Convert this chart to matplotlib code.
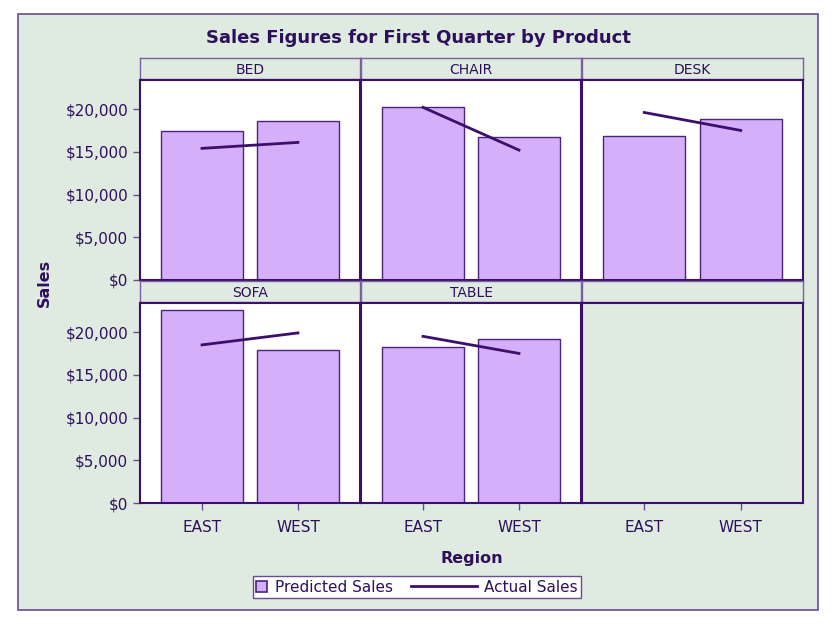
import matplotlib.pyplot as plt
from matplotlib.patches import Rectangle, Patch
from matplotlib.lines import Line2D
from matplotlib.ticker import FuncFormatter
from matplotlib.legend_handler import HandlerBase

# data
products = ['BED', 'CHAIR', 'DESK', 'SOFA', 'TABLE']
regions = ['EAST', 'WEST']
predicted = {
    'BED':   [17400, 18600],
    'CHAIR': [20200, 16700],
    'DESK':  [16800, 18800],
    'SOFA':  [22600, 17900],
    'TABLE': [18200, 19200],
}
actual = {
    'BED':   [15400, 16100],
    'CHAIR': [20200, 15200],
    'DESK':  [19600, 17500],
    'SOFA':  [18500, 19900],
    'TABLE': [19500, 17500],
}

BG = '#dfebe1'
BAR = '#d6affb'
DARK = '#3b0f6b'
EDGE = '#4a2477'
TXT = '#2e0f5c'

W, H = 832, 631
fig = plt.figure(figsize=(W / 100, H / 100), dpi=100)
fig.patch.set_facecolor('white')

# outer green frame
fig.patches.append(Rectangle((18 / W, 1 - 610 / H), 800 / W, 596 / H,
                             transform=fig.transFigure, facecolor=BG,
                             edgecolor='#6a4c93', linewidth=1.2, zorder=-5))


def box(x0, y0, x1, y1):
    return [x0 / W, 1 - y1 / H, (x1 - x0) / W, (y1 - y0) / H]


cols = [(140, 360), (361, 581), (582, 803)]
rows = [((58, 79), (80, 280)), ((281, 302), (303, 503))]
fmt = FuncFormatter(lambda v, p: '${:,.0f}'.format(v))
xs = [0, 1]

for i in range(6):
    r, c = divmod(i, 3)
    (hy0, hy1), (py0, py1) = rows[r]
    x0, x1 = cols[c]

    # header strip
    hax = fig.add_axes(box(x0, hy0, x1, hy1))
    hax.set_facecolor(BG)
    hax.set_xticks([])
    hax.set_yticks([])
    for s in hax.spines.values():
        s.set_color('#7a60a0')
        s.set_linewidth(1.0)

    ax = fig.add_axes(box(x0, py0, x1, py1))
    ax.set_xlim(-0.646, 1.646)
    ax.set_ylim(0, 23400)
    for s in ax.spines.values():
        s.set_color(DARK)
        s.set_linewidth(1.5)

    if i < len(products):
        p = products[i]
        hax.text(0.5, 0.45, p, ha='center', va='center', color=TXT,
                 fontsize=10, transform=hax.transAxes)
        ax.set_facecolor('white')
        ax.bar(xs, predicted[p], width=0.854, color=BAR, edgecolor=EDGE,
               linewidth=1.0, zorder=2)
        ax.plot(xs, actual[p], color=DARK, linewidth=2, zorder=3)
    else:
        ax.set_facecolor(BG)

    ax.set_yticks([0, 5000, 10000, 15000, 20000])
    ax.yaxis.set_major_formatter(fmt)
    ax.set_xticks(xs)
    ax.set_xticklabels(regions)
    ax.tick_params(axis='both', colors='#6a4c93', labelcolor=TXT,
                   labelsize=11, length=5, width=1)
    if c != 0:
        ax.tick_params(axis='y', left=False, labelleft=False)
    if r == 0:
        ax.tick_params(axis='x', bottom=False, labelbottom=False)
    else:
        ax.tick_params(axis='x', pad=7)

fig.text(418 / W, 1 - 38 / H, 'Sales Figures for First Quarter by Product',
         ha='center', va='center', fontsize=13, fontweight='bold', color=TXT)
fig.text(44 / W, 1 - 283 / H, 'Sales', rotation=90, ha='center', va='center',
         fontsize=11.5, fontweight='bold', color=TXT)
fig.text(472 / W, 1 - 559 / H, 'Region', ha='center', va='center',
         fontsize=11.5, fontweight='bold', color=TXT)


class SquareHandler(HandlerBase):
    def create_artists(self, legend, orig_handle, xdescent, ydescent,
                       width, height, fontsize, trans):
        s = 0.7 * fontsize
        rect = Rectangle((-xdescent, -ydescent + (height - s) / 2), s, s,
                         facecolor=BAR, edgecolor=EDGE, linewidth=1.2,
                         transform=trans)
        return [rect]


class LongLineHandler(HandlerBase):
    def create_artists(self, legend, orig_handle, xdescent, ydescent,
                       width, height, fontsize, trans):
        y = height / 2 - ydescent
        ln = Line2D([-xdescent - 3.6 * fontsize, width - xdescent], [y, y],
                    color=DARK, linewidth=2, transform=trans)
        return [ln]


sq = Patch(facecolor=BAR, edgecolor=EDGE, label='Predicted Sales')
ln = Line2D([], [], color=DARK, linewidth=2, label='Actual Sales')
leg = fig.legend(handles=[sq, ln], loc='center',
                 bbox_to_anchor=(417 / W, 1 - 587 / H),
                 handler_map={Patch: SquareHandler(), Line2D: LongLineHandler()},
                 ncol=2, frameon=True, fancybox=False, fontsize=11,
                 handlelength=0.7, handleheight=0.7, columnspacing=4.8,
                 borderpad=0.2, borderaxespad=0, handletextpad=0.5,
                 labelcolor=TXT)
leg.get_frame().set_edgecolor('#6a4c93')
leg.get_frame().set_facecolor('white')
leg.get_frame().set_linewidth(1.0)
leg.get_frame().set_alpha(1)

fig.savefig('out.png', dpi=100, facecolor='white')
